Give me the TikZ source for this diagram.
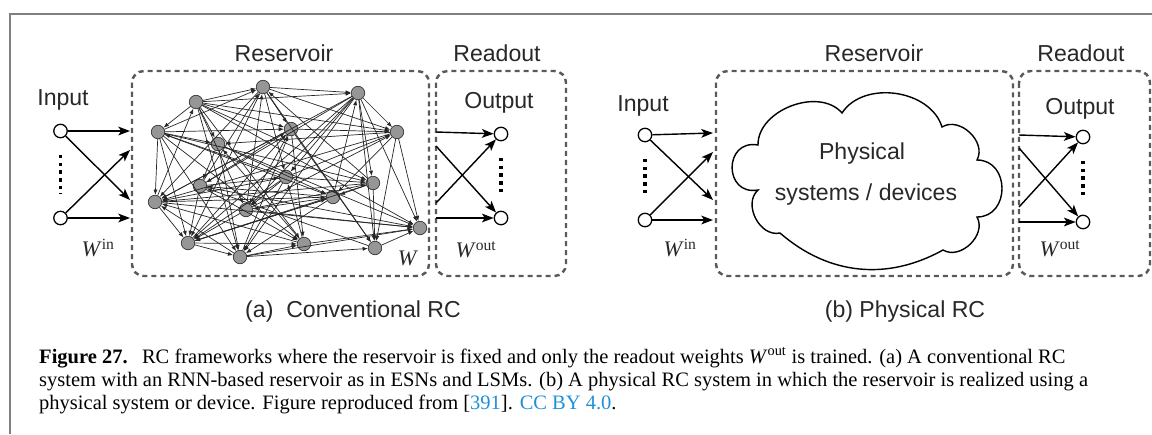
\documentclass[tikz,border=0pt]{standalone}
\usepackage{fontspec}
\setmainfont{Liberation Serif}
\newfontfamily\figfont{Liberation Sans}
\usetikzlibrary{arrows.meta}
\definecolor{framegray}{RGB}{128,128,128}
\definecolor{boxgray}{RGB}{90,90,90}
\definecolor{nodegray}{RGB}{150,150,150}
\definecolor{linkblue}{RGB}{30,144,215}
\definecolor{labelgray}{RGB}{40,40,40}
\newcommand{\wlabel}[1]{\textit{W}\textsuperscript{\normalfont #1}}
\tikzset{
  lbl/.style={font=\figfont\fontsize{19.7}{22}\selectfont, text=labelgray, inner sep=0pt},
  wlbl/.style={font=\fontsize{19}{22}\selectfont, text=labelgray, inner sep=0pt},
  caption/.style={font=\fontsize{17.5}{20}\selectfont, anchor=base west, inner sep=0pt},
  dashbox/.style={draw=boxgray, line width=2.1pt, dash pattern=on 4.3pt off 3.4pt, rounded corners=10pt},
  iocirc/.style={circle, draw, line width=1.1pt, fill=white, minimum size=11.5pt, inner sep=0pt},
  resnode/.style={circle, draw=black!80, line width=0.6pt, fill=nodegray, minimum size=11.5pt, inner sep=0pt},
  wire/.style={-{Stealth[length=10pt,width=7.5pt,inset=2.5pt]}, line width=1.2pt},
  link/.style={-{Latex[length=4.5pt,width=3.5pt]}, line width=0.6pt, draw=black!85},
  vdots/.style={line width=3pt, dash pattern=on 3pt off 3.6pt, shorten <=14pt, shorten >=14pt},
}
\begin{document}
\begin{tikzpicture}[x=0.03cm, y=-0.03cm]
\useasboundingbox (0,0) rectangle (1152,434);
% page frame
\draw[framegray, line width=1.5pt] (1152,14) -- (10,14) -- (10,434);

% (a) conventional RC
\draw[dashbox] (132,71) rectangle (429,276);
\draw[dashbox] (436,71) rectangle (566,276);
\node[lbl] (resTitleA) at (284,53) {Reservoir};
\node[lbl] (readTitleA) at (497,53) {Readout};
\node[lbl] (inLblA) at (63,100) {Input};
\node[lbl] (outLblA) at (499,103) {Output};
\node[iocirc] (inA1) at (60.5,131) {};
\node[iocirc] (inA2) at (60.5,218) {};
\node[iocirc] (outA1) at (501,134) {};
\node[iocirc] (outA2) at (501,218) {};
\draw[vdots] (inA1) -- (inA2);
\draw[vdots] (outA1) -- (outA2);
\coordinate (iA1) at (130,131);
\coordinate (iA2) at (130,150);
\coordinate (iA3) at (130,200);
\coordinate (iA4) at (130,218);
\draw[wire] (inA1) -- (iA1);
\draw[wire] (inA1) -- (iA3);
\draw[wire] (inA2) -- (iA2);
\draw[wire] (inA2) -- (iA4);
\coordinate (oA1) at (436,132);
\coordinate (oA2) at (436,146);
\coordinate (oA3) at (436,203);
\coordinate (oA4) at (436,218);
\draw[wire] (oA1) -- (outA1);
\draw[wire] (oA2) -- (outA2);
\draw[wire] (oA3) -- (outA1);
\draw[wire] (oA4) -- (outA2);
\node[wlbl] (winA) at (98,248) {\wlabel{in}};
\node[wlbl] (wA) at (408,258) {\textit{W}};
\node[wlbl] (woutA) at (476,250) {\wlabel{out}};
% reservoir nodes
\foreach \i/\x/\y in {1/196/102, 2/263/87, 3/358/93, 4/158/132, 5/291/129,
  6/397/132, 7/218/144, 8/286/177, 9/373/183, 10/200/186, 11/333/197,
  12/155/202, 13/246/210, 14/420/228, 15/188/243, 16/304/244, 17/375/248,
  18/240/257}
  \node[resnode] (r\i) at (\x,\y) {};
\foreach \a/\b in {1/2, 1/3, 1/4, 1/5, 1/7, 1/13, 1/16, 1/14, 1/9, 1/18, 1/6,
  2/3, 2/5, 2/8, 2/12, 2/15, 2/17, 2/6,
  3/6, 3/9, 3/14, 3/17, 3/10, 3/12, 3/13, 3/15, 3/18, 3/8,
  4/12, 4/5, 4/7, 4/11, 4/16, 4/18, 4/9, 4/2, 4/15,
  5/16, 5/13, 5/17, 5/6, 5/12,
  6/14, 6/17, 6/11, 6/7, 6/12,
  7/10, 7/18, 7/14, 7/11,
  8/15, 8/9, 8/12, 8/6, 8/18, 8/13, 8/4,
  9/17, 9/12, 9/11, 9/15, 9/2,
  10/15, 10/8, 10/14, 10/16, 10/2, 10/5,
  11/3, 11/13, 11/15, 11/10, 11/18,
  12/15, 12/14, 12/11, 12/1,
  13/2, 13/14, 13/15, 13/6, 13/9,
  15/18, 15/5, 15/11, 15/16,
  16/8, 16/14, 16/7, 16/12,
  17/10, 17/14,
  18/16, 18/17, 18/5, 18/12, 18/14}
  \draw[link] (r\a) -- (r\b);
\node[lbl] (subA) at (353,312) {(a)\ \ Conventional RC};

% (b) physical RC
\draw[dashbox] (716,71) rectangle (1013,276);
\draw[dashbox] (1019,71) rectangle (1150,276);
\node[lbl] (resTitleB) at (874,53) {Reservoir};
\node[lbl] (readTitleB) at (1081,53) {Readout};
\node[lbl] (inLblB) at (643,106) {Input};
\node[lbl] (outLblB) at (1080,109) {Output};
\node[iocirc] (inB1) at (645,135) {};
\node[iocirc] (inB2) at (645,220) {};
\node[iocirc] (outB1) at (1083,137) {};
\node[iocirc] (outB2) at (1083,222) {};
\draw[vdots] (inB1) -- (inB2);
\draw[vdots] (outB1) -- (outB2);
\coordinate (iB1) at (713,133);
\coordinate (iB2) at (713,152);
\coordinate (iB3) at (713,200);
\coordinate (iB4) at (713,220);
\draw[wire] (inB1) -- (iB1);
\draw[wire] (inB1) -- (iB3);
\draw[wire] (inB2) -- (iB2);
\draw[wire] (inB2) -- (iB4);
\coordinate (oB1) at (1019,135);
\coordinate (oB2) at (1019,148);
\coordinate (oB3) at (1019,207);
\coordinate (oB4) at (1019,222);
\draw[wire] (oB1) -- (outB1);
\draw[wire] (oB2) -- (outB2);
\draw[wire] (oB3) -- (outB1);
\draw[wire] (oB4) -- (outB2);
\node[wlbl] (winB) at (680,248) {\wlabel{in}};
\node[wlbl] (woutB) at (1060,249) {\wlabel{out}};
% cloud
\draw[line width=1.2pt] (758,190) to[bend left=100, looseness=2] (758,145)
  to[bend left=70] (842,113) to[bend left=65] (942,127)
  to[bend left=75, looseness=1.1] (977,160) to[bend left=90, looseness=1.5] (977,217)
  to[bend left=75, looseness=1.1] (943,250) to[bend left=35] (780,233)
  to[bend left=75, looseness=1.1] (758,190) -- cycle;
\node[lbl] (phys1) at (862,154) {Physical};
\node[lbl] (phys2) at (866,195) {systems / devices};
\node[lbl] (subB) at (905,312) {(b) Physical RC};

% caption
\node[caption] (cap1) at (39,363) {\textbf{Figure 27.}\hspace{0.7em}RC frameworks where the reservoir is fixed and only the readout weights \wlabel{out} is trained. (a) A conventional RC};
\node[caption] (cap2) at (39,386) {system with an RNN-based reservoir as in ESNs and LSMs. (b) A physical RC system in which the reservoir is realized using a};
\node[caption] (cap3) at (39,409) {physical system or device. Figure reproduced from [\textcolor{linkblue}{391}]. \textcolor{linkblue}{CC BY 4.0}.};
\end{tikzpicture}
\end{document}
